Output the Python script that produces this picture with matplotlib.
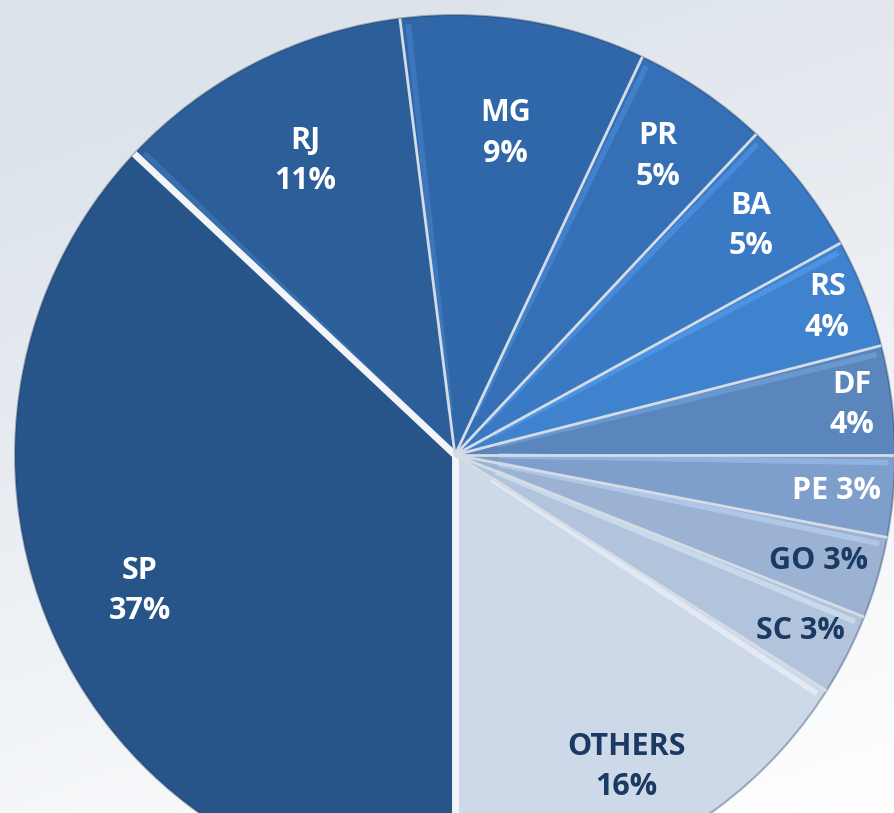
import numpy as np
import matplotlib.pyplot as plt
from matplotlib.colors import to_rgb

states = ['SP', 'RJ', 'MG', 'PR', 'BA', 'RS', 'DF', 'PE', 'GO', 'SC', 'OTHERS']
shares = [37, 11, 9, 5, 5, 4, 4, 3, 3, 3, 16]
two_line = [True, True, True, True, True, True, True, False, False, False, True]

colors = ['#27558a', '#2c5f99', '#3067a8', '#3570b7', '#3a79c3', '#3f82cd',
          '#5a86bb', '#7e9fcb', '#9bb2d3', '#b2c3dc', '#cdd8e8']
text_colors = ['white'] * 8 + ['#1b3a63'] * 3
label_r = [0.78, 0.75, 0.74, 0.82, 0.85, 0.91, 0.91, 0.87, 0.86, 0.88, 0.81]

W, H = 895, 813
cx, cy, R = 455, H - 455, 440

fig = plt.figure(figsize=(W / 100, H / 100), dpi=100)
ax = fig.add_axes([0, 0, 1, 1])

# background gradient (darker top-left, white towards bottom)
yy, xx = np.mgrid[0:1:200j, 0:1:200j]
t = np.clip(0.8 * yy + 0.3 * xx - 0.1, 0, 1)
top = np.array(to_rgb('#dbe2ea'))
bot = np.array(to_rgb('#ffffff'))
bg = top[None, None, :] * (1 - t[..., None]) + bot[None, None, :] * t[..., None]
ax.imshow(bg, extent=[0, W, 0, H], origin='upper', zorder=0, aspect='auto')

wedges, _ = ax.pie(shares, colors=colors, startangle=270, counterclock=False,
                   center=(cx, cy), radius=R, frame=True,
                   wedgeprops=dict(linewidth=0))
for w in wedges:
    w.set_zorder(2)
ax.set_xlim(0, W)
ax.set_ylim(0, H)
ax.set_aspect('equal')
ax.axis('off')

# soft darker rim
rim = plt.Circle((cx, cy), R, fill=False, ec='#1c3556', lw=1.5, alpha=0.35, zorder=3)
ax.add_patch(rim)

# bevel highlight along the upper edge of each slice (not on SP)
for w, c in list(zip(wedges, colors))[1:]:
    a = np.deg2rad(w.theta2 - 1.0)
    light = tuple(min(1, v * 1.15 + 0.08) for v in to_rgb(c))
    ax.plot([cx + 0.1 * R * np.cos(a), cx + 0.985 * R * np.cos(a)],
            [cy + 0.1 * R * np.sin(a), cy + 0.985 * R * np.sin(a)],
            color=light, lw=4, alpha=0.45, solid_capstyle='butt', zorder=3)

# separators between slices
for i, w in enumerate(wedges):
    a = np.deg2rad(w.theta2)
    lw, ec = (5, '#f2f4f7') if i in (0, 1) else (2, '#d5dce5')
    ax.plot([cx, cx + R * np.cos(a)], [cy, cy + R * np.sin(a)],
            color=ec, lw=lw, solid_capstyle='butt', zorder=4)

for w, name, val, tl, tc, lr in zip(wedges, states, shares, two_line, text_colors, label_r):
    mid = np.deg2rad((w.theta1 + w.theta2) / 2)
    x = cx + lr * R * np.cos(mid)
    y = cy + lr * R * np.sin(mid)
    txt = f'{name}\n{val}%' if tl else f'{name} {val}%'
    ax.text(x, y, txt, ha='center', va='center', multialignment='center',
            fontsize=22, fontweight='bold', family=['Open Sans', 'DejaVu Sans'],
            color=tc, linespacing=1.45, zorder=5)

fig.savefig('out.png', dpi=100)
